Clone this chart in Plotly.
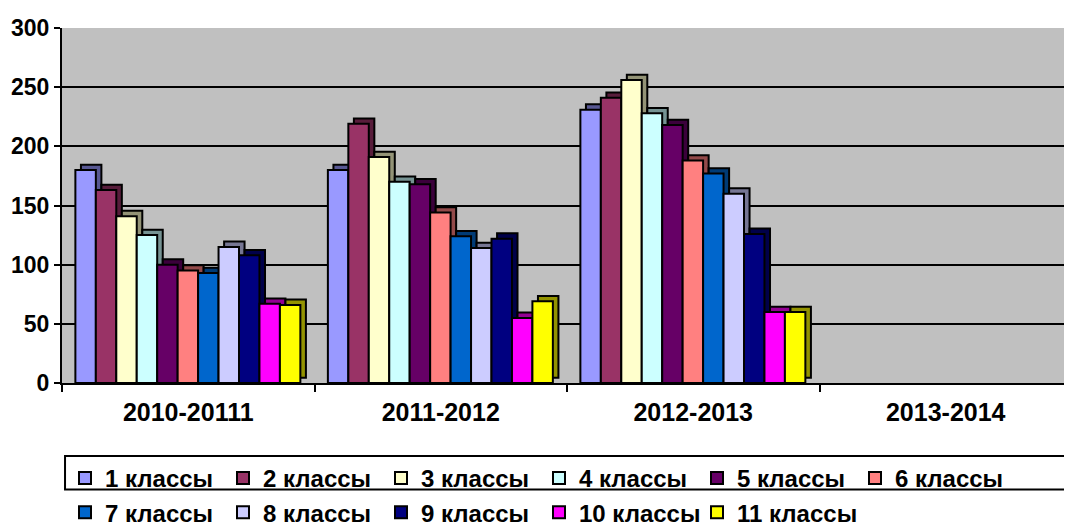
import plotly.graph_objects as go

years = ['2010-20111', '2011-2012', '2012-2013', '2013-2014']
classes = ['1 классы', '2 классы', '3 классы', '4 классы', '5 классы', '6 классы',
           '7 классы', '8 классы', '9 классы', '10 классы', '11 классы']

# values per class, one list per school year (2013-2014 has no data)
y_2010 = [180, 163, 141, 125, 100, 95, 93, 115, 108, 67, 66]
y_2011 = [180, 219, 191, 170, 168, 144, 124, 114, 122, 55, 69]
y_2012 = [231, 241, 256, 228, 218, 188, 177, 160, 126, 60, 60]
y_2013 = [None] * 11

colors = ['#9999FF', '#993366', '#FFFFCC', '#CCFFFF', '#660066', '#FF8080',
          '#0066CC', '#CCCCFF', '#000080', '#FF00FF', '#FFFF00']


def darker(hex_color, f=0.58):
    h = hex_color.lstrip('#')
    r, g, b = (int(h[k:k + 2], 16) for k in (0, 2, 4))
    return '#%02X%02X%02X' % (int(r * f), int(g * f), int(b * f))


font = 'Liberation Sans, Arial, sans-serif'

# bar geometry (category units) and fake 3d depth
bar_w = 0.081
start = -0.447
depth_x = 0.022
depth_y = 4.5

# the page body has an 8px margin, margins below account for it
fig = go.Figure()
# depth faces first so the fronts sit on top
for i, name in enumerate(classes):
    vals = [y_2010[i], y_2011[i], y_2012[i], y_2013[i]]
    fig.add_trace(go.Bar(
        x=years, y=vals, base=depth_y, showlegend=False, hoverinfo='skip',
        width=bar_w, offset=start + i * bar_w + depth_x,
        marker=dict(color=darker(colors[i]), line=dict(color='black', width=2)),
    ))
for i, name in enumerate(classes):
    vals = [y_2010[i], y_2011[i], y_2012[i], y_2013[i]]
    fig.add_trace(go.Bar(
        x=years, y=vals, name=name,
        width=bar_w, offset=start + i * bar_w,
        marker=dict(color=colors[i], line=dict(color='black', width=2)),
    ))

# legend frame runs off the right and bottom edges like the original
fig.add_shape(type='rect', xref='paper', yref='paper',
              x0=0.003, x1=1.05, y0=-0.3, y1=-0.2056,
              line=dict(color='black', width=2), fillcolor='rgba(0,0,0,0)')

fig.update_layout(
    width=1072, height=532,
    margin=dict(l=54, r=8, t=20, b=157),
    barmode='overlay',
    paper_bgcolor='white', plot_bgcolor='#C0C0C0',
    font=dict(family=font, color='black'),
    showlegend=True,
    legend=dict(
        orientation='h', xref='container', yref='container',
        x=57 / 1072, y=1 - 448 / 532, xanchor='left', yanchor='top',
        borderwidth=0, bgcolor='rgba(0,0,0,0)',
        font=dict(size=24, family=font, color='black', weight='bold'),
        entrywidth=113, entrywidthmode='pixels',
        traceorder='normal',
    ),
)
fig.update_xaxes(
    automargin=False,
    showline=True, linecolor='black', linewidth=2,
    ticks='outside', tickson='boundaries', ticklen=7, tickwidth=2, tickcolor='black',
    tickfont=dict(size=25, family=font, color='black', weight='bold'),
    ticklabelstandoff=6,
    showgrid=False,
)
fig.update_yaxes(
    automargin=False,
    range=[0, 300], dtick=50,
    showline=True, linecolor='black', linewidth=2,
    ticks='outside', ticklen=6, tickwidth=2, tickcolor='black',
    tickfont=dict(size=23, family=font, color='black', weight='bold'),
    showgrid=True, gridcolor='black', gridwidth=2,
    zeroline=False,
)

fig.write_html('out.html')
